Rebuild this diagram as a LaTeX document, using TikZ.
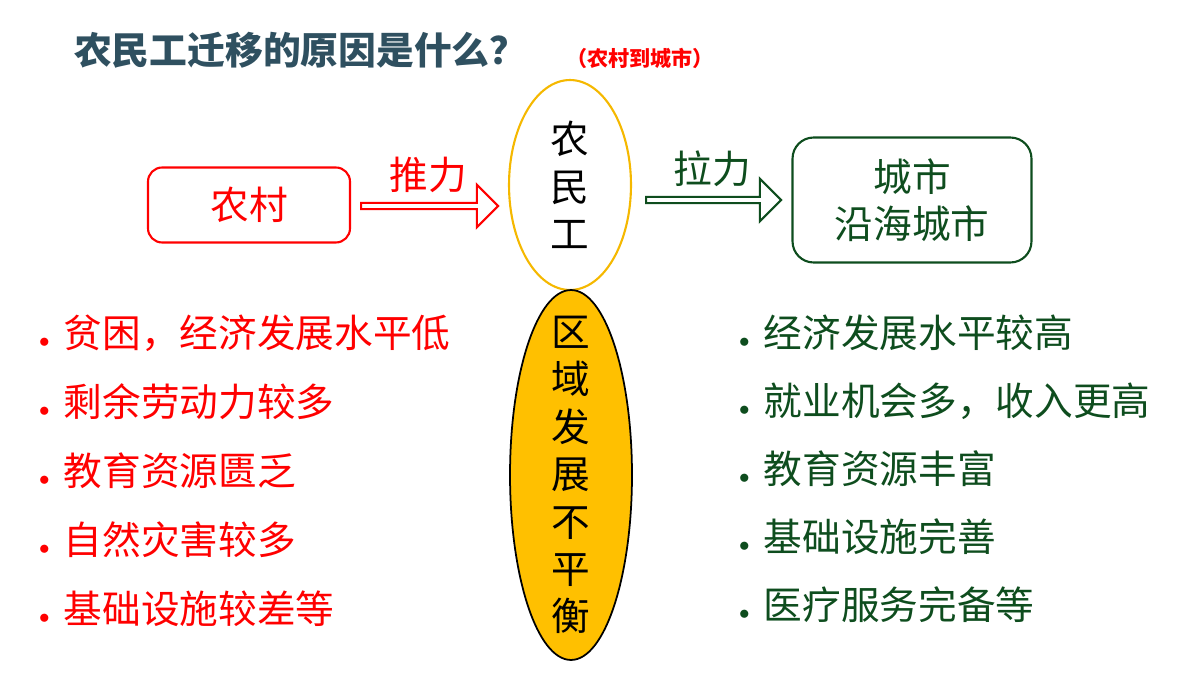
\documentclass[tikz,border=0pt]{standalone}
\usepackage{fontspec}
\setmainfont{Noto Sans CJK SC}
\usetikzlibrary{shapes.geometric,shapes.arrows,positioning}
\definecolor{titlecol}{HTML}{2F5060}
\definecolor{pushred}{HTML}{FF0000}
\definecolor{pullgreen}{HTML}{0E4D1E}
\definecolor{goldline}{HTML}{F5B800}
\definecolor{goldfill}{HTML}{FFC000}
\tikzset{
  big/.style    = {font=\fontsize{22pt}{27pt}\selectfont},
  place/.style  = {draw, rounded corners=8pt, line width=1.2pt, big, align=center},
  oval/.style   = {ellipse, line width=1.2pt, minimum width=2.44cm, inner sep=0pt},
  push/.style   = {single arrow, draw=pushred, line width=1.2pt, fill=white,
                   minimum height=2.74cm, minimum width=0.85cm, single arrow head extend=0.12cm, inner sep=0pt},
  pull/.style   = {push, draw=pullgreen, minimum height=2.7cm},
  left item/.style  = {big, text=pushred, anchor=west},
  right item/.style = {big, text=pullgreen, anchor=west}
}
\newcommand{\dotmark}{{\fontsize{12pt}{12pt}\selectfont$\bullet$}\hspace{8pt}}
\begin{document}
\begin{tikzpicture}[x=0.02cm,y=-0.02cm]
  \useasboundingbox (0,0) rectangle (1200,675);

  % title line
  \node[anchor=west, text=titlecol, font=\fontsize{21.5pt}{24pt}\selectfont\bfseries] (title) at (68,50) {农民工迁移的原因是什么？};
  \node[anchor=west, text=pushred, font=\fontsize{12pt}{14pt}\selectfont\bfseries] (sub) at (560,58) {（农村到城市）};

  % places and the workers
  \node[place, draw=pushred, text=pushred, minimum width=4.04cm, minimum height=1.5cm] (village) at (249,205) {农村};
  \node[place, draw=pullgreen, text=pullgreen, minimum width=4.78cm, minimum height=2.5cm, rounded corners=12pt] (city) at (912,200) {城市\\沿海城市};
  \node[oval, draw=goldline, minimum height=4.2cm] (worker) at (570,185) {};
  \node[big, align=center] (workertext) at (worker.center) {农\\民\\工};
  \node[oval, draw=black, fill=goldfill, line width=1pt, minimum height=7.4cm] (cause) at (571,475) {};
  \node[big, align=center] (causetext) at (cause.center) {区\\域\\发\\展\\不\\平\\衡};

  % push and pull arrows
  \node[push] (pusharrow) at (428,206) {};
  \node[pull] (pullarrow) at (712,200) {};
  \node[big, text=pushred, above=0.05cm of pusharrow] (pushlabel) {推力};
  \node[big, text=pullgreen, above=0.05cm of pullarrow] (pulllabel) {拉力};

  % reasons in the village
  \foreach \txt [count=\i] in {贫困，经济发展水平低, 剩余劳动力较多, 教育资源匮乏, 自然灾害较多, 基础设施较差等}
    \node[left item] (push\i) at (33,{333+(\i-1)*69}) {\dotmark\txt};

  % reasons in the city
  \foreach \txt [count=\i] in {经济发展水平较高, 就业机会多，收入更高, 教育资源丰富, 基础设施完善, 医疗服务完备等}
    \node[right item] (pull\i) at (733,{333+(\i-1)*68}) {\dotmark\txt};
\end{tikzpicture}
\end{document}
